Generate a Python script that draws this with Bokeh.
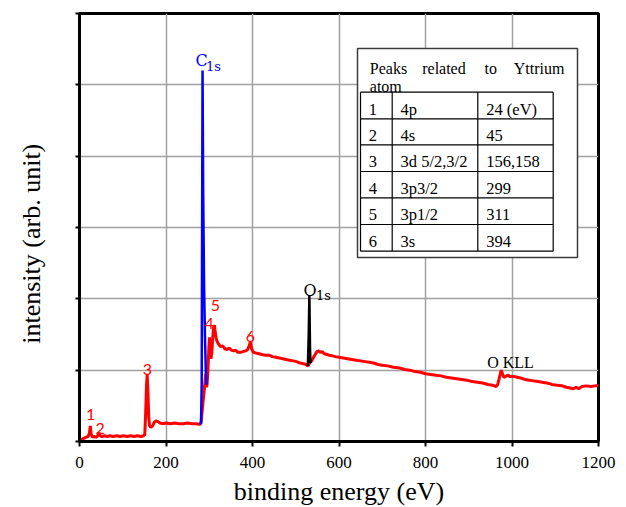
from bokeh.plotting import figure
from bokeh.models import Range1d, FixedTicker
from bokeh.core.properties import value
from bokeh.embed import file_html
from bokeh.resources import INLINE

# ---------------- data ----------------
red_energy = [0, 4, 8, 12, 16, 20, 23, 25, 27, 30, 34, 38, 42, 45, 48, 52, 58, 64, 70, 78, 86, 94,
              102, 110, 118, 126, 134, 142, 148, 151, 153, 155, 156.5, 158, 160, 162, 165, 169, 173,
              177, 181, 186, 192, 200, 210, 220, 230, 240, 250, 260, 270, 278, 281,
              292, 293.5, 295, 297, 299, 300.5, 302, 304, 306, 308, 310, 312, 314, 317, 321, 326,
              331, 336, 341, 346, 351, 356, 361, 366, 372, 378, 384, 389, 392, 395, 398, 402, 408,
              415, 422, 430, 438, 446, 454, 462, 470, 478, 486, 494, 502, 510, 518, 524, 528,
              534, 537, 541, 545, 549, 553, 557, 561, 566, 572, 578, 585, 592, 600, 610, 620, 630,
              640, 650, 660, 670, 680, 690, 700, 712, 726, 740, 752, 764, 776, 788, 800, 812, 824,
              836, 848, 860, 872, 884, 896, 908, 920, 932, 944, 955, 963, 967, 971, 975, 978, 981,
              985, 990, 996, 1004, 1012, 1020, 1030, 1040, 1050, 1060, 1070, 1081, 1092, 1104,
              1116, 1126, 1134, 1142, 1148, 1154, 1162, 1172, 1182, 1192, 1200]
red_intensity = [0.00, 0.02, 0.04, 0.05, 0.06, 0.07, 0.12, 0.22, 0.10, 0.06, 0.07, 0.06, 0.08, 0.12,
                 0.08, 0.07, 0.08, 0.07, 0.08, 0.07, 0.08, 0.07, 0.08, 0.07, 0.08, 0.07, 0.08, 0.07,
                 0.08, 0.10, 0.40, 0.80, 0.93, 0.75, 0.35, 0.22, 0.20, 0.22, 0.27, 0.29, 0.28, 0.26,
                 0.25, 0.26, 0.25, 0.26, 0.25, 0.25, 0.26, 0.25, 0.25, 0.24, 0.26,
                 0.95, 0.76, 0.80, 1.00, 1.30, 1.46, 1.25, 1.16, 1.25, 1.45, 1.60, 1.63, 1.52, 1.42,
                 1.37, 1.33, 1.34, 1.30, 1.29, 1.31, 1.28, 1.27, 1.28, 1.25, 1.25, 1.26, 1.27, 1.29,
                 1.34, 1.39, 1.30, 1.25, 1.24, 1.23, 1.22, 1.21, 1.21, 1.19, 1.18, 1.17, 1.16, 1.15,
                 1.14, 1.13, 1.12, 1.10, 1.09, 1.08, 1.06,
                 1.12, 1.13, 1.18, 1.22, 1.26, 1.27, 1.25, 1.26, 1.23, 1.22, 1.21, 1.20, 1.19, 1.18,
                 1.17, 1.16, 1.15, 1.14, 1.13, 1.12, 1.11, 1.10, 1.08, 1.07, 1.06, 1.04, 1.03, 1.01,
                 1.00, 0.98, 0.97, 0.95, 0.94, 0.93, 0.92, 0.90, 0.89, 0.88, 0.87, 0.86, 0.84, 0.83,
                 0.82, 0.80, 0.79, 0.77, 0.80, 0.90, 1.00, 0.95, 0.90, 0.91, 0.93, 0.91, 0.91, 0.90,
                 0.89, 0.87, 0.86, 0.85, 0.84, 0.83, 0.82, 0.80, 0.79, 0.78, 0.76, 0.75, 0.74, 0.76,
                 0.74, 0.77, 0.78, 0.77, 0.78, 0.78]
c1s_energy = [278, 281, 282.5, 283.5, 284.5, 286, 288, 290, 292, 293.5]
c1s_intensity = [0.24, 0.26, 0.80, 3.00, 5.20, 3.50, 2.20, 1.50, 1.00, 0.80]
o1s_energy = [528, 530, 531.5, 533, 534, 535]
o1s_intensity = [1.06, 1.50, 2.05, 1.30, 1.12, 1.10]

peak_numbers = ["1", "2", "3", "4", "5", "6"]
peak_label_energy = [26, 48, 157, 300, 314, 395]

x_ticks = [0, 200, 400, 600, 800, 1000, 1200]
y_ticks = [0, 1, 2, 3, 4, 5, 6]

table_title_words = ["Peaks", "related", "to", "Yttrium"]
table_title_line2 = "atom"
table_index = ["1", "2", "3", "4", "5", "6"]
table_orbital = ["4p", "4s", "3d 5/2,3/2", "3p3/2", "3p1/2", "3s"]
table_energy = ["24 (eV)", "45", "156,158", "299", "311", "394"]

# ---------------- layout helpers (page pixels -> data) ----------------
FL, FR, FT, FB = 79, 598, 13, 441
XMAX, YMAX = 1200, 6


def dx(px):
    return (px - FL) * XMAX / (FR - FL)


def dy(py):
    return (FB - py) * YMAX / (FB - FT)


SERIF = value("Liberation Serif")
NBSP = "\u00a0"

p = figure(frame_width=FR - FL, frame_height=FB - FT,
           x_range=Range1d(0, XMAX), y_range=Range1d(0, YMAX),
           output_backend="svg", toolbar_location=None,
           min_border_left=FL, min_border_right=20, min_border_top=FT,
           min_border_bottom=50)
p.background_fill_color = "white"
p.border_fill_color = "white"
p.outline_line_color = "black"
p.outline_line_width = 3

for ax in (p.xaxis, p.yaxis):
    ax.axis_line_width = 3
    ax.axis_line_color = "black"
    ax.major_tick_line_color = "black"
    ax.major_tick_line_width = 2
    ax.major_tick_in = 0
    ax.minor_tick_line_color = None

p.xaxis.ticker = FixedTicker(ticks=x_ticks)
p.yaxis.ticker = FixedTicker(ticks=y_ticks)
p.xaxis.major_tick_out = 5
p.yaxis.major_tick_out = 4
p.xaxis.major_label_text_font = "Liberation Serif"
p.xaxis.major_label_text_font_size = "17px"
p.xaxis.major_label_text_color = "black"
p.xaxis.major_label_standoff = 10
p.yaxis.major_label_overrides = {t: "" for t in y_ticks}
p.yaxis.major_label_standoff = 0
p.xaxis.axis_label = "binding energy (eV)"
p.xaxis.axis_label_text_font = "Liberation Serif"
p.xaxis.axis_label_text_font_size = "26px"
p.xaxis.axis_label_text_font_style = "normal"
p.xaxis.axis_label_text_color = "black"
p.xaxis.axis_label_standoff = 6
# y title: trailing no-break spaces shift the visible text down like the reference
p.yaxis.axis_label = "intensity (arb. unit)" + NBSP * 5
p.yaxis.axis_label_text_font = "Liberation Serif"
p.yaxis.axis_label_text_font_size = "26px"
p.yaxis.axis_label_text_font_style = "normal"
p.yaxis.axis_label_text_color = "black"
p.yaxis.axis_label_standoff = 30

p.xgrid.ticker = FixedTicker(ticks=x_ticks)
p.ygrid.ticker = FixedTicker(ticks=y_ticks)
p.grid.grid_line_color = "#a0a0a0"
p.grid.grid_line_width = 1.5

# spectra
p.line(red_energy, red_intensity, line_color="#ff0000", line_width=3)
p.line(c1s_energy, c1s_intensity, line_color="#0000ff", line_width=2.5)
p.line(o1s_energy, o1s_intensity, line_color="black", line_width=2.5)

# peak number labels
label_baselines = [414, 428, 369, 323, 305, 336]
p.text(x=peak_label_energy, y=[dy(b) for b in label_baselines], text=peak_numbers,
       text_font=value("Lato"), text_font_size="16px", text_color="#ff0000",
       text_align="center", text_baseline="alphabetic")

# C1s / O1s / O KLL labels
p.text(x=[dx(195)], y=[dy(60)], text=["C"], text_font=value("DejaVu Serif"),
       text_font_size="16px", text_color="#0000ff", text_baseline="alphabetic")
p.text(x=[dx(205.5)], y=[dy(66)], text=["1s"], text_font=value("DejaVu Serif"),
       text_font_size="13px", text_color="#0000ff", text_baseline="alphabetic")
p.text(x=[dx(303)], y=[dy(290)], text=["O"], text_font=value("DejaVu Serif"),
       text_font_size="16px", text_color="black", text_baseline="alphabetic")
p.text(x=[dx(315.5)], y=[dy(294.5)], text=["1s"], text_font=value("DejaVu Serif"),
       text_font_size="13px", text_color="black", text_baseline="alphabetic")
p.text(x=[dx(510)], y=[dy(362)], text=["O KLL"], text_font=SERIF,
       text_font_size="16px", text_color="black", text_align="center",
       text_baseline="alphabetic")

# table
p.quad(left=[dx(357)], right=[dx(577)], top=[dy(48)], bottom=[dy(257)],
       fill_color="white", line_color="#3c3c3c", line_width=1.5)
row_lines = [91.7, 118.3, 144.3, 171, 197.3, 224, 250.7]
col_lines = [360, 391.7, 477.3, 552.7]
p.segment(x0=[dx(col_lines[0])] * len(row_lines), x1=[dx(col_lines[-1])] * len(row_lines),
          y0=[dy(r) for r in row_lines], y1=[dy(r) for r in row_lines],
          line_color="black", line_width=1.2)
p.segment(x0=[dx(c) for c in col_lines], x1=[dx(c) for c in col_lines],
          y0=[dy(row_lines[0])] * len(col_lines), y1=[dy(row_lines[-1])] * len(col_lines),
          line_color="black", line_width=1.2)
title_x = [369.3, 421.7, 484, 513.3]
p.text(x=[dx(t) for t in title_x], y=[dy(68.3)] * 4, text=table_title_words,
       text_font=SERIF, text_font_size="16px", text_color="black", text_baseline="alphabetic")
p.text(x=[dx(369.3)], y=[dy(86.2)], text=[table_title_line2],
       text_font=SERIF, text_font_size="16px", text_color="black", text_baseline="alphabetic")
row_base = [dy(r + 16.8) for r in row_lines[:-1]]
for col_x, col_text in zip([368.3, 400, 485.7], [table_index, table_orbital, table_energy]):
    p.text(x=[dx(col_x)] * len(col_text), y=row_base, text=col_text,
           text_font=SERIF, text_font_size="16.5px", text_color="black",
           text_baseline="alphabetic")

open("out.html", "w").write(file_html(p, INLINE))
